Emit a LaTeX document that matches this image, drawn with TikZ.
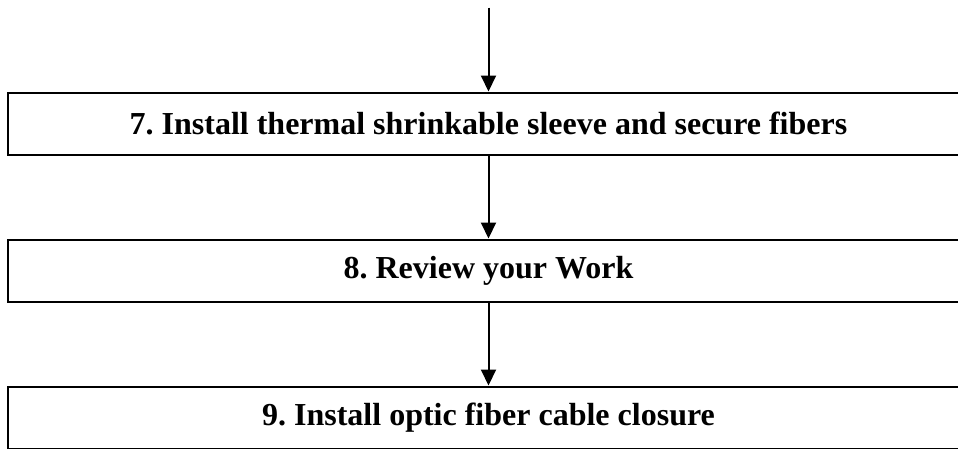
\documentclass[tikz,border=0pt]{standalone}
\usepackage{fontspec}
\setmainfont{Liberation Serif}
\usetikzlibrary{arrows.meta, positioning}

\begin{document}
\frenchspacing
\begin{tikzpicture}[x=1pt,y=-1pt,node distance=83pt]
\useasboundingbox (0,0) rectangle (958,448);
\clip (0,0) rectangle (958,448);
\tikzset{stepbox/.style={draw,line width=2pt,minimum width=961pt,minimum height=62pt,
  inner sep=0pt,font=\fontsize{32}{38}\selectfont\bfseries},
  flow/.style={line width=2pt,-{Triangle[width=15pt,length=16pt]}}}
\node[stepbox] (S7) at (488.5,123.5) {7. Install thermal shrinkable sleeve and secure fibers};
\node[stepbox,below=of S7] (S8) {8. Review your Work};
\node[stepbox,below=of S8] (S9) {9. Install optic fiber cable closure};
\coordinate[above=84pt of S7.north] (In);

\draw[flow] (In) -- (S7);
\draw[flow] (S7) -- (S8);
\draw[flow] (S8) -- (S9);
\end{tikzpicture}
\end{document}
